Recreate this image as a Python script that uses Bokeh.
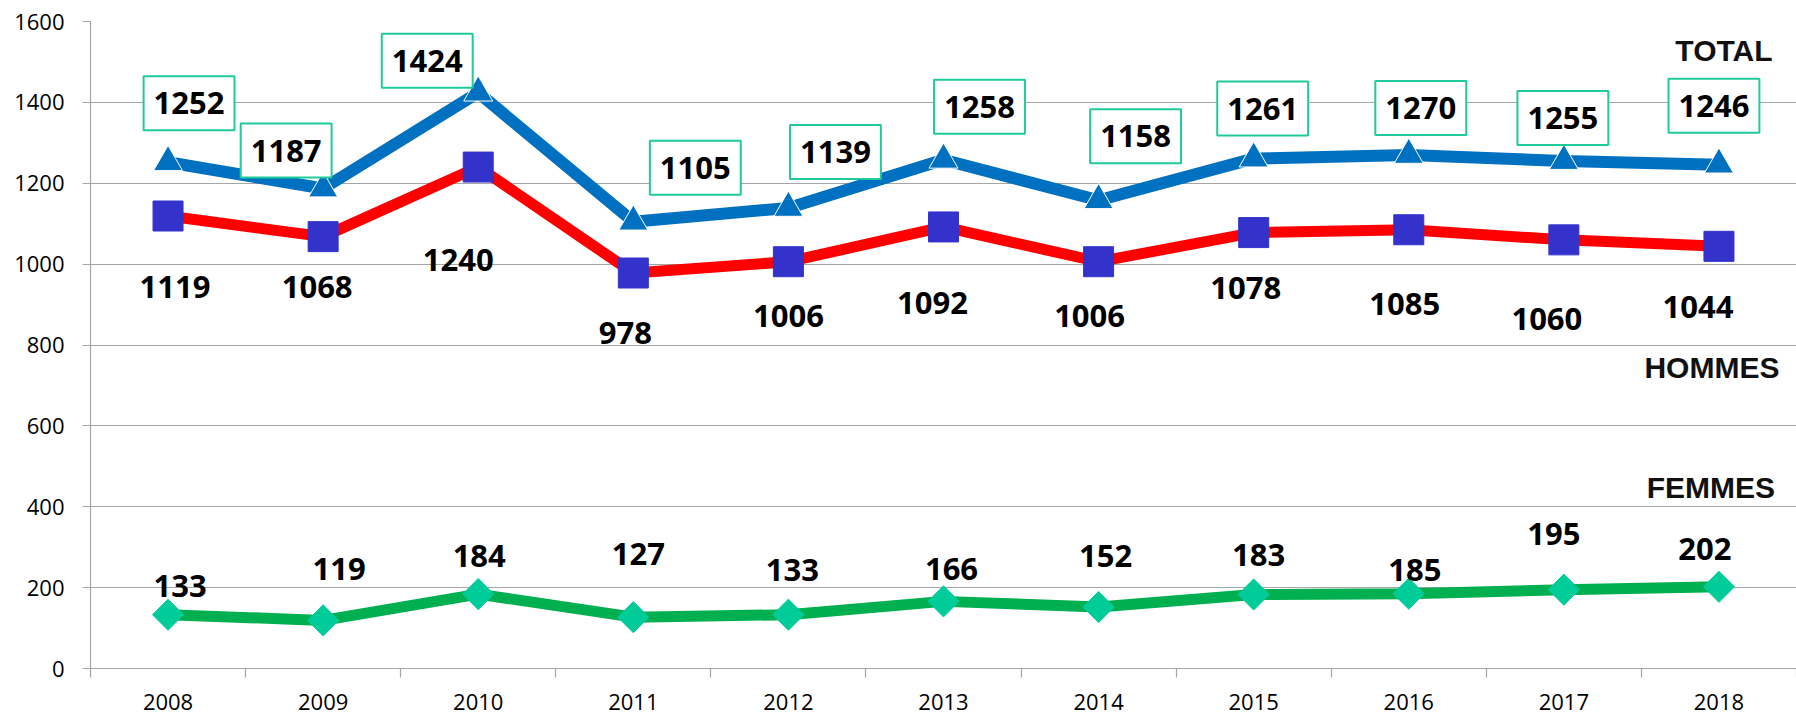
import numpy as np
from bokeh.plotting import figure
from bokeh.models import ColumnDataSource, FixedTicker, Range1d
from bokeh.core.properties import value
from bokeh.embed import file_html
from bokeh.resources import INLINE

# ---------------- data ----------------
years = ["2008", "2009", "2010", "2011", "2012", "2013", "2014", "2015", "2016", "2017", "2018"]
total = [1252, 1187, 1424, 1105, 1139, 1258, 1158, 1261, 1270, 1255, 1246]
hommes = [1119, 1068, 1240, 978, 1006, 1092, 1006, 1078, 1085, 1060, 1044]
femmes = [133, 119, 184, 127, 133, 166, 152, 183, 185, 195, 202]
y_ticks = [0, 200, 400, 600, 800, 1000, 1200, 1400, 1600]
series_names = ["TOTAL", "HOMMES", "FEMMES"]

# label offsets (screen pixels, dy positive = down)
total_dx = [21, -37, -51, 62, 47, 36, 37, 9, 12, -1, -5]
total_dy = [-59, -38, -32, -54, -56, -53, -64, -50, -47, -43, -59]
hommes_dx = [7, -6, -20, -8, 0, -11, -9, -8, -4, -17, -21]
hommes_dy = [71, 50, 93, 60, 54, 76, 54, 55, 74, 79, 61]
femmes_dx = [12, 16, 1, 5, 4, 8, 7, 5, 6, -10, -14]
femmes_dy = [-29, -51, -38, -63, -45, -32, -51, -39, -24, -56, -38]
name_dx = [5, -7, -8]
name_dy = [-114, 121, -99]

# ---------------- figure ----------------
n = len(years)
xs = np.arange(n) + 0.5

p = figure(width=1796, height=714, output_backend="svg", toolbar_location=None,
           x_range=Range1d(0, n), y_range=Range1d(0, 1600),
           min_border_left=90, min_border_top=21, min_border_bottom=46, min_border_right=0)
p.outline_line_color = None
p.background_fill_color = "white"

GRID = "#a6a6a6"
p.xgrid.grid_line_color = None
p.ygrid.grid_line_color = GRID
p.ygrid.grid_line_width = 1.2
p.ygrid.ticker = FixedTicker(ticks=y_ticks)

p.yaxis.ticker = FixedTicker(ticks=y_ticks)
p.yaxis.axis_line_color = GRID
p.yaxis.axis_line_width = 1.2
p.yaxis.major_tick_line_color = GRID
p.yaxis.major_tick_line_width = 1.2
p.yaxis.major_tick_out = 8
p.yaxis.major_tick_in = 0
p.yaxis.minor_tick_line_color = None
p.yaxis.major_label_standoff = 18
p.yaxis.major_label_text_font = "Open Sans"
p.yaxis.major_label_text_font_size = "22px"
p.yaxis.major_label_text_color = "black"

p.xaxis.ticker = FixedTicker(ticks=list(xs), minor_ticks=list(range(n + 1)))
p.xaxis.major_label_overrides = {float(x): y for x, y in zip(xs, years)}
p.xaxis.axis_line_color = GRID
p.xaxis.axis_line_width = 1.2
p.xaxis.major_tick_line_color = None
p.xaxis.major_tick_out = 0
p.xaxis.minor_tick_line_color = GRID
p.xaxis.minor_tick_line_width = 1.2
p.xaxis.minor_tick_out = 9
p.xaxis.minor_tick_in = 0
p.xaxis.major_label_standoff = 16
p.xaxis.major_label_text_font = "Open Sans"
p.xaxis.major_label_text_font_size = "22px"
p.xaxis.major_label_text_color = "black"

src = ColumnDataSource(dict(x=xs, total=total, hommes=hommes, femmes=femmes,
                            tl=[str(v) for v in total], hl=[str(v) for v in hommes],
                            fl=[str(v) for v in femmes],
                            tdx=total_dx, tdy=total_dy, hdx=hommes_dx, hdy=hommes_dy,
                            fdx=femmes_dx, fdy=femmes_dy))

# lines
p.line("x", "femmes", source=src, line_color="#00B050", line_width=11)
p.line("x", "hommes", source=src, line_color="#FF0000", line_width=11)
p.line("x", "total", source=src, line_color="#0070C0", line_width=12)

# markers
p.scatter("x", "femmes", source=src, marker="square", angle=np.pi / 4, size=22,
          fill_color="#00CC99", line_color="#00CC99")
p.scatter("x", "hommes", source=src, marker="square", size=30,
          fill_color="#3333CC", line_color="#3333CC")
p.scatter("x", "total", source=src, marker="triangle", size=29,
          fill_color="#0070C0", line_color="white", line_width=1)

LABEL_FONT = value("Open Sans")
# data labels
p.text("x", "total", text="tl", source=src, x_offset="tdx", y_offset="tdy",
       text_align="center", text_baseline="middle", text_font=LABEL_FONT,
       text_font_style="bold", text_font_size="31px", text_color="black",
       background_fill_color="white", border_line_color="#1FCB9A", border_line_width=2,
       padding=(10, 16))
p.text("x", "hommes", text="hl", source=src, x_offset="hdx", y_offset="hdy",
       text_align="center", text_baseline="middle", text_font=LABEL_FONT,
       text_font_style="bold", text_font_size="31px", text_color="black")
p.text("x", "femmes", text="fl", source=src, x_offset="fdx", y_offset="fdy",
       text_align="center", text_baseline="middle", text_font=LABEL_FONT,
       text_font_style="bold", text_font_size="31px", text_color="black")

# series names
last = [total[-1], hommes[-1], femmes[-1]]
nsrc = ColumnDataSource(dict(x=[xs[-1]] * 3, y=last, t=series_names, dx=name_dx, dy=name_dy))
p.text("x", "y", text="t", source=nsrc, x_offset="dx", y_offset="dy",
       text_align="center", text_baseline="middle", text_font=value("Liberation Sans"),
       text_font_style="bold", text_font_size="30px", text_color="#111111")

open("out.html", "w").write(file_html(p, INLINE))
